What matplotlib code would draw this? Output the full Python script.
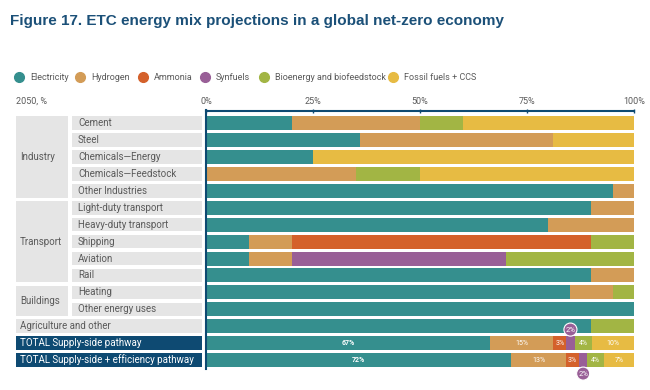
import matplotlib
matplotlib.use("Agg")
import matplotlib.pyplot as plt
from matplotlib.patches import Rectangle
from matplotlib.lines import Line2D
from matplotlib.transforms import blended_transform_factory
import numpy as np

plt.rcParams['font.family'] = ['Roboto', 'DejaVu Sans']

# --- data -------------------------------------------------------------
rows = ["Cement", "Steel", "Chemicals\u2014Energy", "Chemicals\u2014Feedstock",
        "Other Industries", "Light-duty transport", "Heavy-duty transport",
        "Shipping", "Aviation", "Rail", "Heating", "Other energy uses",
        "Agriculture and other", "TOTAL Supply-side pathway",
        "TOTAL Supply-side + efficiency pathway"]
groups = [("Industry", 0, 4), ("Transport", 5, 9), ("Buildings", 10, 11)]
series = ["Electricity", "Hydrogen", "Ammonia", "Synfuels",
          "Bioenergy and biofeedstock", "Fossil fuels + CCS"]

electricity = [20, 36, 25, 0, 95, 90, 80, 10, 10, 90, 85, 100, 90, 67, 72]
hydrogen    = [30, 45, 0, 35, 5, 10, 20, 10, 10, 10, 10, 0, 0, 15, 13]
ammonia     = [0, 0, 0, 0, 0, 0, 0, 70, 0, 0, 0, 0, 0, 3, 3]
synfuels    = [0, 0, 0, 0, 0, 0, 0, 0, 50, 0, 0, 0, 0, 2, 2]
bioenergy   = [10, 0, 0, 15, 0, 0, 0, 10, 30, 0, 5, 0, 10, 4, 4]
fossil      = [40, 19, 75, 50, 0, 0, 0, 0, 0, 0, 0, 0, 0, 10, 7]

ticks = [0, 25, 50, 75, 100]
tick_labels = ["0%", "25%", "50%", "75%", "100%"]

colors = ["#358f8e", "#d39c57", "#d4612b", "#995f97", "#a2b544", "#e7bb43"]
navy = "#0e4a72"
grey_box = "#e5e5e5"
text_grey = "#5a5a5a"

# --- figure -----------------------------------------------------------
W, H = 650, 390
fig = plt.figure(figsize=(6.5, 3.9), dpi=100)

def fx(px):
    return px / W

def fy(py):
    return 1 - py / H

ax_top, ax_bot = 110.5, 368.5
ax = fig.add_axes([fx(206), fy(ax_bot), fx(634) - fx(206), (ax_bot - ax_top) / H])

data = np.array([electricity, hydrogen, ammonia, synfuels, bioenergy, fossil], dtype=float)
shares = data / data.sum(axis=0) * 100
y = np.arange(len(rows))
bar_h = 0.83

left = np.zeros(len(rows))
for i, name in enumerate(series):
    ax.barh(y, shares[i], left=left, height=bar_h, color=colors[i], linewidth=0)
    # value labels on the two total rows
    for r in (13, 14):
        if data[i, r] == 0:
            continue
        cx = left[r] + shares[i][r] / 2
        lab = f"{int(data[i, r])}%"
        if name == "Synfuels":
            dy = -0.8 if r == 13 else 0.8
            ax.text(cx, r + dy, lab, ha="center", va="center", fontsize=5.5,
                    color="white", zorder=5,
                    bbox=dict(boxstyle="circle,pad=0.2", fc=colors[i], ec="white", lw=0.8))
        else:
            ax.text(cx, r, lab, ha="center", va="center", fontsize=5,
                    color="white", fontweight="bold" if i == 0 else "normal")
    left += shares[i]

ax.set_xlim(0, 100)
ax.set_ylim(len(rows) - 0.5, -0.75)
ax.set_yticks([])
ax.xaxis.tick_top()
ax.set_xticks(ticks)
ax.set_xticklabels(tick_labels, fontsize=6.5, color=text_grey)
ax.tick_params(axis="x", direction="inout", length=3, width=1, color=navy, pad=2)
for s in ("right", "bottom"):
    ax.spines[s].set_visible(False)
for s in ("top", "left"):
    ax.spines[s].set_color(navy)
    ax.spines[s].set_linewidth(1.5)

# --- left-hand table --------------------------------------------------
tr = blended_transform_factory(fig.transFigure, ax.transData)
gap = 0.1

def box(x0, x1, r0, r1, fc):
    ax.add_patch(Rectangle((fx(x0), r0 - 0.5 + gap), fx(x1) - fx(x0),
                           (r1 - r0 + 1) - 2 * gap, transform=tr, fc=fc,
                           ec="none", clip_on=False))

for name, r0, r1 in groups:
    box(16, 68, r0, r1, grey_box)
    ax.text(fx(20), (r0 + r1) / 2, name, transform=tr, ha="left", va="center",
            fontsize=7, color=text_grey)

for r in range(12):
    box(72, 202, r, r, grey_box)
    ax.text(fx(78), r, rows[r], transform=tr, ha="left", va="center",
            fontsize=7, color=text_grey)

box(16, 202, 12, 12, grey_box)
ax.text(fx(20), 12, rows[12], transform=tr, ha="left", va="center",
        fontsize=7, color=text_grey)
for r in (13, 14):
    box(16, 202, r, r, navy)
    ax.text(fx(20), r, rows[r], transform=tr, ha="left", va="center",
            fontsize=7, color="white")

# --- title, legend, unit ---------------------------------------------
fig.text(fx(10), fy(21), "Figure 17. ETC energy mix projections in a global net-zero economy",
         fontsize=11, fontweight="bold", color="#1b5078", va="center",
         family=["Liberation Sans", "DejaVu Sans"])

legend_x = [19, 80, 143, 205, 264, 393]
for i, name in enumerate(series):
    fig.add_artist(Line2D([fx(legend_x[i])], [fy(77)], marker="o", markersize=7,
                          color=colors[i], linestyle="none", transform=fig.transFigure))
    fig.text(fx(legend_x[i] + 11), fy(77), name, fontsize=6.5, color=text_grey,
             va="center", ha="left")

fig.text(fx(16), fy(101), "2050, %", fontsize=6.5, color=text_grey, va="center")

fig.savefig("out.png", dpi=100)
